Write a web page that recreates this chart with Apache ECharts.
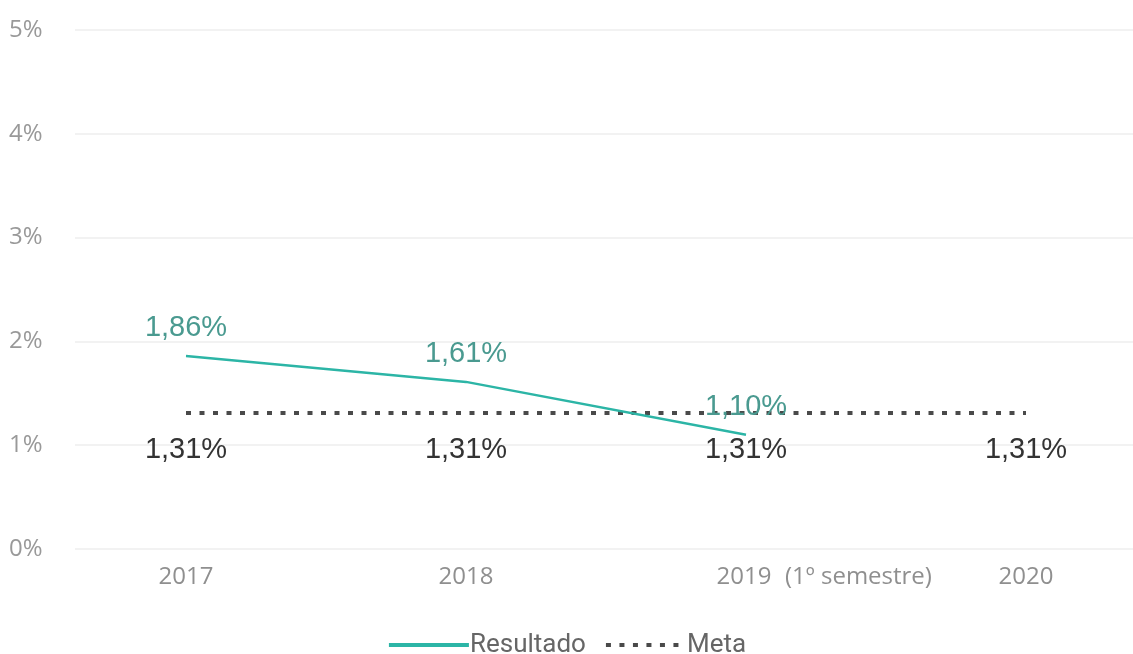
<!DOCTYPE html>
<html><head><meta charset="utf-8">
<script src="https://cdn.jsdelivr.net/npm/echarts@6/dist/echarts.min.js"></script>
<style>html,body{margin:0;padding:0;background:#fff}#c{width:1133px;height:654px}</style>
</head><body><div id="c"></div>
<script>
var categories = ['2017', '2018', '2019', '2020'];
var resultado = [1.86, 1.61, 1.10, null];
var meta = [1.31, 1.31, 1.31, 1.31];
var yTicks = [0, 1, 2, 3, 4, 5];
var semestreNote = '(1º semestre)';

function pct(v) { return v.toFixed(2).replace('.', ',') + '%'; }

var chart = echarts.init(document.getElementById('c'));
var font = 'Open Sans';
var labelFont = 'Liberation Sans';
chart.setOption({
  backgroundColor: '#fff',
  animation: false,
  textStyle: { fontFamily: font },
  grid: [
    { left: 46, width: 1120, top: 30, bottom: 105, outerBoundsMode: 'none', containLabel: false },
    { left: 75, right: 0, top: 30, bottom: 105, outerBoundsMode: 'none', containLabel: false }
  ],
  legend: {
    top: 627, left: 'center',
    itemWidth: 80, itemHeight: 14, itemGap: 18,
    itemStyle: { opacity: 0 },
    lineStyle: { width: 4 },
    textStyle: { fontSize: 26, color: '#666', fontFamily: 'Roboto', padding: [0, 0, 0, -4] },
    data: ['Resultado', 'Meta']
  },
  xAxis: [
    {
      type: 'category', gridIndex: 0, data: categories, boundaryGap: true,
      axisLine: { show: false }, axisTick: { show: false }, splitLine: { show: false },
      axisLabel: {
        interval: 0, fontSize: 24, color: '#8f8f8f', margin: 16,
        formatter: function (v) { return v === '2019' ? '{sp|}' + v + '{s|' + semestreNote + '}' : v; },
        rich: {
          sp: { width: 166 },
          s: { width: 166, align: 'left', padding: [0, 0, 0, 4], fontSize: 24, color: '#8f8f8f' }
        }
      }
    },
    { type: 'category', gridIndex: 1, data: categories, show: false }
  ],
  yAxis: [
    { type: 'value', gridIndex: 0, min: 0, max: 5, interval: 1, show: false },
    {
      type: 'value', gridIndex: 1, min: 0, max: 5, interval: 1,
      axisLine: { show: false }, axisTick: { show: false },
      splitLine: { show: true, lineStyle: { color: '#eeeeee', width: 1.5 } },
      axisLabel: { fontSize: 24, color: '#999', align: 'left', margin: 66,
        formatter: function (v) { return v + '%'; } }
    }
  ],
  series: [
    {
      name: 'Resultado', type: 'line', xAxisIndex: 0, yAxisIndex: 0, data: resultado,
      symbol: 'circle', symbolSize: 0.5, showSymbol: true, connectNulls: false,
      lineStyle: { color: '#2cb5a6', width: 2.5 },
      itemStyle: { color: 'rgba(0,0,0,0)' },
      label: { show: true, position: 'top', distance: 13, fontSize: 29, fontFamily: labelFont, color: '#4a9a90',
        formatter: function (p) { return p.value == null ? '' : pct(p.value); } },
      labelLayout: { hideOverlap: false },
      z: 3
    },
    {
      name: 'Meta', type: 'line', xAxisIndex: 0, yAxisIndex: 0, data: meta,
      symbol: 'circle', symbolSize: 0.5, showSymbol: true,
      lineStyle: { color: '#4a4a4a', width: 4, type: [5, 8.5], cap: 'butt' },
      itemStyle: { color: 'rgba(0,0,0,0)' },
      label: { show: true, position: 'bottom', distance: 22, fontSize: 29, fontFamily: labelFont, color: '#333',
        formatter: function (p) { return pct(p.value); } },
      labelLayout: { hideOverlap: false },
      z: 2
    }
  ]
});
</script></body></html>
